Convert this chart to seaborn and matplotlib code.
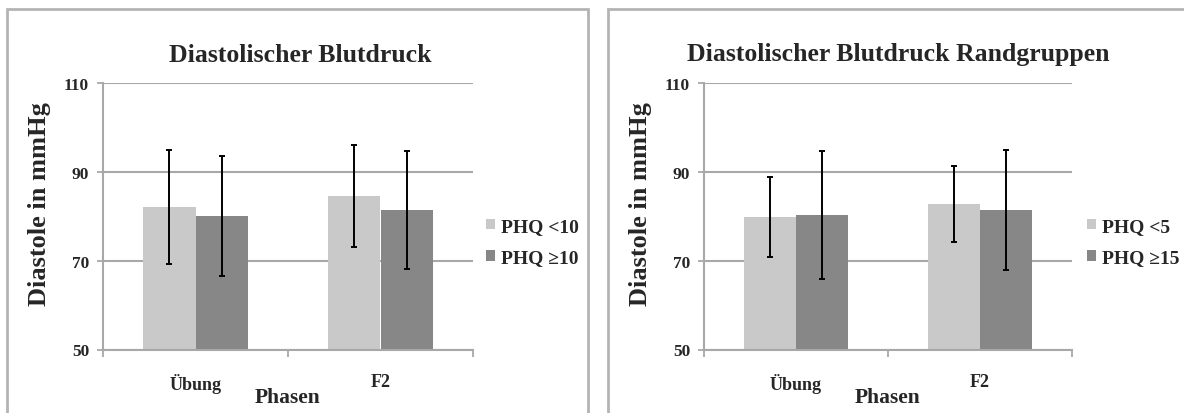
import matplotlib
matplotlib.use("Agg")
import matplotlib.pyplot as plt
from matplotlib.patches import Rectangle
import seaborn as sns
import pandas as pd

# values (mmHg)
phases = ["Übung", "F2"]

left_groups = ["PHQ <10", "PHQ ≥10"]
left_means = [[82.1, 84.6], [80.1, 81.4]]
left_sd = [[12.8, 11.5], [13.5, 13.2]]

right_groups = ["PHQ <5", "PHQ ≥15"]
right_means = [[79.8, 82.8], [80.3, 81.5]]
right_sd = [[9.0, 8.5], [14.4, 13.5]]

titles = ["Diastolischer Blutdruck", "Diastolischer Blutdruck Randgruppen"]
colors = ["#c9c9c9", "#878787"]
grid_gray = "#a8a8a8"

sns.set_style("white")
plt.rcParams["font.family"] = ["Liberation Serif", "DejaVu Serif"]
plt.rcParams["font.weight"] = "bold"

fig = plt.figure(figsize=(11.84, 4.14), dpi=100)
W, H = 1184, 414

# outer chart frames like the office export
for x0, x1 in [(7, 588), (608, 1200)]:
    fig.add_artist(Rectangle((x0 / W, -0.1), (x1 - x0) / W, 1.1 - 10 / H,
                             transform=fig.transFigure, fill=False,
                             edgecolor="#b4b4b4", linewidth=2))

panels = [
    (103, 370, left_groups, left_means, left_sd, titles[0], 300, 486),
    (704, 368, right_groups, right_means, right_sd, titles[1], 898, 1087),
]

for ax_x, ax_w, groups, means, sds, title, title_x, leg_x in panels:
    ax = fig.add_axes([ax_x / W, 1 - 350.5 / H, ax_w / W, 266.5 / H])

    df = pd.DataFrame({
        "Phase": phases * len(groups),
        "Gruppe": [g for g in groups for _ in phases],
        "Wert": [v for m in means for v in m],
    })
    sns.barplot(data=df, x="Phase", y="Wert", hue="Gruppe", order=phases,
                hue_order=groups, palette=colors, width=0.57, saturation=1,
                errorbar=None, linewidth=0, ax=ax, zorder=2)

    # error bars on top of each bar
    for cont, sd in zip(ax.containers, sds):
        xs = [b.get_x() + b.get_width() / 2 for b in cont]
        ys = [b.get_height() for b in cont]
        ax.errorbar(xs, ys, yerr=sd, fmt="none", ecolor="black",
                    elinewidth=1.4, capsize=2.5, capthick=1.4, zorder=3)

    ax.set_ylim(50, 110)
    ax.set_yticks([50, 70, 90, 110])
    ax.set_xlim(-0.5, 1.5)
    ax.set_xticks([-0.5, 0.5, 1.5])
    ax.set_xticklabels([])
    ax.set_xticks([0, 1], minor=True)
    ax.set_xticklabels(phases, minor=True, fontsize=13, fontweight="bold")
    ax.tick_params(axis="x", which="major", length=5, width=1.3,
                   color=grid_gray, direction="out", bottom=True)
    ax.tick_params(axis="x", which="minor", length=0, pad=17)
    ax.tick_params(axis="y", length=4, width=1.3, color=grid_gray,
                   direction="out", left=True, pad=6, labelsize=12.5)
    for lab in ax.get_yticklabels():
        lab.set_fontweight("bold")

    ax.yaxis.grid(True, color=grid_gray, linewidth=1.5, zorder=0)
    ax.set_axisbelow(True)
    for side in ["top", "right"]:
        ax.spines[side].set_visible(False)
    for side in ["left", "bottom"]:
        ax.spines[side].set_color(grid_gray)
        ax.spines[side].set_linewidth(1.5)

    ax.set_xlabel("")
    ax.set_ylabel("Diastole in mmHg", fontsize=19, fontweight="bold")
    ax.yaxis.set_label_coords(-0.14, 0.55)

    fig.text((ax_x + ax_w / 2) / W, 1 - 398 / H, "Phasen", ha="center",
             va="center", fontsize=15.5, fontweight="bold")
    fig.text(title_x / W, 1 - 55 / H, title, ha="center", va="center",
             fontsize=18.5, fontweight="bold")

    ax.legend(loc="center left", bbox_to_anchor=(leg_x / W, 1 - 243 / H),
              bbox_transform=fig.transFigure, frameon=False,
              prop={"weight": "bold", "size": 14}, handlelength=0.45,
              handleheight=0.45, handletextpad=0.3, labelspacing=0.75,
              borderpad=0, borderaxespad=0)

fig.savefig("out.png", dpi=100)
